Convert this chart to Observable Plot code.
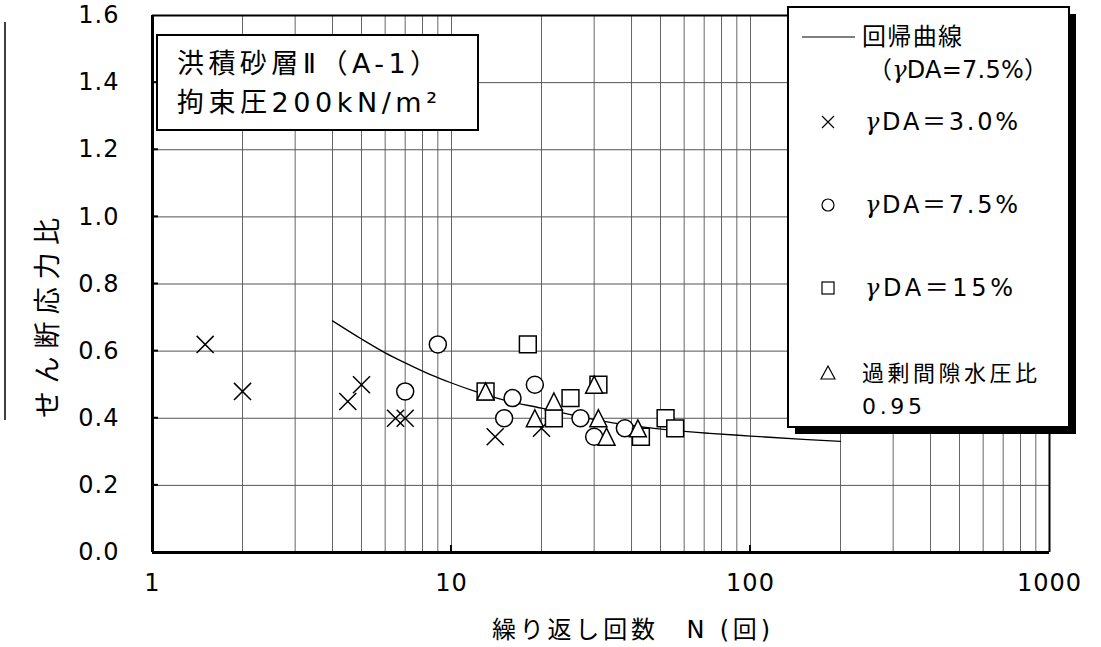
<!DOCTYPE html>
<html>
<head>
<meta charset="utf-8">
<script src="https://cdn.jsdelivr.net/npm/d3@7"></script>
<script src="https://cdn.jsdelivr.net/npm/@observablehq/plot@0.6"></script>
<style>
  html, body { margin: 0; padding: 0; background: #fff; }
  #chart { width: 1101px; height: 647px; }
</style>
</head>
<body>
<div id="chart"></div>
<script>
// ---- data ----
const xTicks = [1, 10, 100, 1000];
const yTicks = [0.0, 0.2, 0.4, 0.6, 0.8, 1.0, 1.2, 1.4, 1.6];
const xGrid = [2, 3, 4, 5, 6, 7, 8, 9, 10, 20, 30, 40, 50, 60, 70, 80, 90, 100, 200, 300, 400, 500, 600, 700, 800, 900];
const yGrid = [0.2, 0.4, 0.6, 0.8, 1.0, 1.2, 1.4];

// regression curve (γDA = 7.5%)
const curveN = [4, 5, 6, 7, 8.5, 10, 12, 15, 20, 25, 30, 42, 55, 73, 100, 150, 200];
const curveY = [0.69, 0.636, 0.595, 0.565, 0.53, 0.505, 0.48, 0.454, 0.43, 0.411, 0.396, 0.376, 0.364, 0.355, 0.347, 0.337, 0.331];

// γDA = 3.0%  (×)
const da3N = [1.5, 2, 4.5, 5, 6.5, 7, 14, 20];
const da3Y = [0.62, 0.48, 0.45, 0.50, 0.40, 0.40, 0.345, 0.37];
// γDA = 7.5%  (○)
const da75N = [9, 7, 15, 16, 19, 27, 30, 38];
const da75Y = [0.62, 0.48, 0.40, 0.46, 0.50, 0.40, 0.345, 0.37];
// γDA = 15%  (□)
const da15N = [18, 13, 22, 25, 31, 43, 52, 56];
const da15Y = [0.62, 0.48, 0.40, 0.46, 0.50, 0.345, 0.40, 0.37];
// excess pore water pressure ratio 0.95  (△)
const pwpN = [13, 19, 22, 30, 31, 33, 42];
const pwpY = [0.48, 0.40, 0.45, 0.50, 0.40, 0.345, 0.37];

const xLabel = "繰り返し回数　N (回)";
const yLabel = "せん断応力比";
const noteLines = ["洪積砂層Ⅱ（A-1）", "拘束圧200kN/m²"];
const legendCurve = ["回帰曲線", "（γDA=7.5%）"];
const legendItems = ["γDA＝3.0%", "γDA＝7.5%", "γDA＝15%"];
const legendPwp = ["過剰間隙水圧比", "0.95"];

// ---- build tables ----
const zip = (xs, ys) => xs.map((x, i) => ({N: x, y: ys[i]}));
const curve = zip(curveN, curveY);
const s3 = zip(da3N, da3Y);
const s75 = zip(da75N, da75Y);
const s15 = zip(da15N, da15Y);
const spw = zip(pwpN, pwpY);

const triangle = {
  draw(ctx, size) {
    const r = Math.sqrt(size / Math.PI);
    ctx.moveTo(0, -r);
    ctx.lineTo(r, r);
    ctx.lineTo(-r, r);
    ctx.closePath();
  }
};

const JP = "'DejaVu Sans', 'Noto Sans CJK JP', sans-serif";
const NUM = "'DejaVu Sans', sans-serif";

const plot = Plot.plot({
  width: 1101,
  height: 647,
  marginLeft: 152,
  marginRight: 52,
  marginTop: 15,
  marginBottom: 95,
  style: {fontFamily: NUM, color: "#000", background: "#fff", overflow: "visible"},
  x: {type: "log", domain: [1, 1000]},
  y: {domain: [0, 1.6]},
  marks: [
    Plot.ruleX(xGrid, {stroke: "#666", strokeWidth: 1}),
    Plot.ruleY(yGrid, {stroke: "#555", strokeWidth: 1}),
    Plot.line(curve, {x: "N", y: "y", stroke: "#000", strokeWidth: 1.3, curve: "monotone-x"}),
    Plot.dot(s3, {x: "N", y: "y", symbol: "times", r: 7.8, stroke: "#000", strokeWidth: 1.5}),
    Plot.dot(s75, {x: "N", y: "y", symbol: "circle", r: 8.5, stroke: "#000", fill: "#fff", strokeWidth: 1.5}),
    Plot.dot(s15, {x: "N", y: "y", symbol: "square", r: 9.5, stroke: "#000", fill: "#fff", strokeWidth: 1.5}),
    Plot.dot(spw, {x: "N", y: "y", symbol: triangle, r: 8.5, stroke: "#000", fill: "#fff", strokeWidth: 1.5}),
    Plot.ruleY([1.6], {stroke: "#000", strokeWidth: 2}),
    Plot.ruleX([1000], {stroke: "#000", strokeWidth: 2}),
    Plot.ruleX([1], {stroke: "#000", strokeWidth: 3}),
    Plot.ruleY([0], {stroke: "#000", strokeWidth: 3}),
    Plot.axisX({ticks: xTicks, tickFormat: d => String(d), tickSize: 0, tickPadding: 21, fontSize: 24, label: null}),
    Plot.axisY({ticks: yTicks, tickFormat: d3.format(".1f"), tickSize: 0, tickPadding: 33, fontSize: 24, label: null})
  ]
});

document.getElementById("chart").appendChild(plot);

const sx = plot.scale("x"), sy = plot.scale("y");
const svg = d3.select(plot);
svg.selectAll("g[aria-label='x-axis tick label'] text, g[aria-label='y-axis tick label'] text").attr("letter-spacing", "1px");

// inward ticks
const x0 = sx.apply(1), yb = sy.apply(0);
const tk = svg.append("g").attr("stroke", "#000").attr("stroke-width", 2);
yGrid.forEach(v => tk.append("line").attr("x1", x0).attr("x2", x0 + 6).attr("y1", sy.apply(v)).attr("y2", sy.apply(v)));
[10, 100].forEach(v => tk.append("line").attr("x1", sx.apply(v)).attr("x2", sx.apply(v)).attr("y1", yb).attr("y2", yb - 7));

// partial line at far left (from the source page)
svg.append("line").attr("x1", 5).attr("x2", 5).attr("y1", 22).attr("y2", 420).attr("stroke", "#000").attr("stroke-width", 1.5);

// axis titles
svg.append("text").attr("transform", "translate(47,318) rotate(-90)")
  .attr("text-anchor", "middle").attr("dominant-baseline", "central")
  .attr("font-family", JP).attr("font-size", 27).attr("textLength", 200).attr("lengthAdjust", "spacing")
  .text(yLabel);
svg.append("text").attr("x", 492).attr("y", 630)
  .attr("text-anchor", "start").attr("dominant-baseline", "central")
  .attr("font-family", JP).attr("font-size", 24).attr("textLength", 278).attr("lengthAdjust", "spacing")
  .text(xLabel);

// annotation box
const note = svg.append("g");
note.append("rect").attr("x", 157).attr("y", 35).attr("width", 321).attr("height", 95)
  .attr("fill", "#fff").attr("stroke", "#000").attr("stroke-width", 2);
[63, 102].forEach((cy, i) => note.append("text").attr("x", 177).attr("y", cy)
  .attr("text-anchor", "start").attr("dominant-baseline", "central").attr("font-family", JP).attr("font-size", 27)
  .attr("textLength", 260).attr("lengthAdjust", "spacing").text(noteLines[i]));

// legend
const lg = svg.append("g");
lg.append("rect").attr("x", 795).attr("y", 14).attr("width", 281).attr("height", 420).attr("fill", "#000");
lg.append("rect").attr("x", 788).attr("y", 7).attr("width", 281).attr("height", 420)
  .attr("fill", "#fff").attr("stroke", "#000").attr("stroke-width", 2);
lg.append("line").attr("x1", 802).attr("x2", 855).attr("y1", 37).attr("y2", 37).attr("stroke", "#000").attr("stroke-width", 1);

function legText(x, y, str, len, fs) {
  const t = lg.append("text").attr("x", x).attr("y", y)
    .attr("text-anchor", "start").attr("dominant-baseline", "central")
    .attr("font-family", JP).attr("font-size", fs || 24);
  if (len) t.attr("textLength", len).attr("lengthAdjust", "spacing");
  const parts = str.split("γ");
  parts.forEach((p, i) => {
    if (i > 0) t.append("tspan").attr("font-style", "italic").attr("font-family", "'DejaVu Serif', serif").text("γ");
    if (p) t.append("tspan").text(p);
  });
}
legText(862, 37, legendCurve[0], 100);
legText(868, 70, legendCurve[1], 180);
legText(865, 122, legendItems[0], 153);
legText(865, 205, legendItems[1], 153);
legText(865, 288, legendItems[2], 148);
legText(862, 373, legendPwp[0], 175, 22);
legText(862, 406, legendPwp[1], 60, 22);

const sym = lg.append("g").attr("stroke", "#000").attr("stroke-width", 1.2).attr("fill", "none");
sym.append("path").attr("d", "M822,116L834,128M834,116L822,128");
sym.append("circle").attr("cx", 828).attr("cy", 205).attr("r", 6);
sym.append("rect").attr("x", 822).attr("y", 282).attr("width", 12).attr("height", 12);
sym.append("path").attr("d", "M828,366L835,379L821,379Z");
</script>
</body>
</html>
